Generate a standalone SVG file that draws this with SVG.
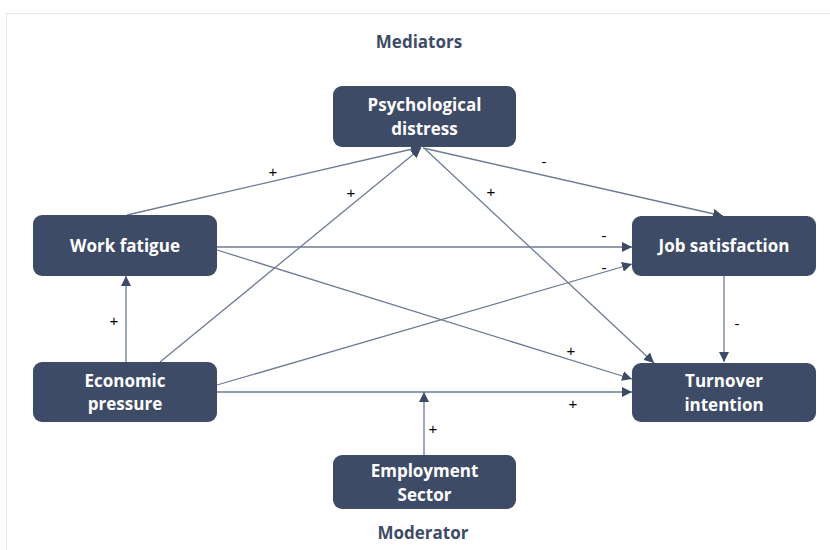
<svg xmlns="http://www.w3.org/2000/svg" width="830" height="550" viewBox="0 0 830 550">
<defs>
<style>
.box{fill:#3e4b66;}
.nt{font-family:"Open Sans","Noto Sans",sans-serif;font-weight:bold;font-size:17px;fill:#ffffff;text-anchor:middle;}
.hd{font-family:"Open Sans","Noto Sans",sans-serif;font-weight:bold;font-size:17px;fill:#3e4b66;text-anchor:middle;}
.ln{stroke:#6d7b94;stroke-width:1.3;fill:none;}
.lb{font-family:"Liberation Sans",Arial,sans-serif;font-size:15px;fill:#000;text-anchor:middle;}
</style>
<marker id="ah" viewBox="0 0 10 10" refX="10" refY="5" markerWidth="10" markerHeight="10" markerUnits="userSpaceOnUse" orient="auto">
<path d="M0,0 L10,5 L0,10 Z" fill="#3e4b66"/>
</marker>
</defs>
<rect x="0" y="0" width="830" height="550" fill="#ffffff"/>
<rect x="6.5" y="13.5" width="830" height="545" fill="none" stroke="#e6e6ea" stroke-width="1"/>
<text class="hd" x="419" y="48">Mediators</text>
<text class="hd" x="423" y="539">Moderator</text>
<g id="connectors">
<line class="ln" x1="127" y1="215" x2="421" y2="147" marker-end="url(#ah)"/>
<line class="ln" x1="160" y1="362" x2="421" y2="148" marker-end="url(#ah)"/>
<line class="ln" x1="423" y1="148" x2="723" y2="216" marker-end="url(#ah)"/>
<line class="ln" x1="425" y1="149" x2="654" y2="363" marker-end="url(#ah)"/>
<line class="ln" x1="217" y1="247" x2="632" y2="247" marker-end="url(#ah)"/>
<line class="ln" x1="217" y1="250" x2="632" y2="379" marker-end="url(#ah)"/>
<line class="ln" x1="217" y1="385" x2="632" y2="264" marker-end="url(#ah)"/>
<line class="ln" x1="217" y1="392" x2="632" y2="392" marker-end="url(#ah)"/>
<line class="ln" x1="724" y1="276" x2="724" y2="362" marker-end="url(#ah)"/>
<line class="ln" x1="126" y1="362" x2="126" y2="276" marker-end="url(#ah)"/>
<line class="ln" x1="424" y1="455" x2="424" y2="392" marker-end="url(#ah)"/>
<text class="lb" x="273" y="177">+</text>
<text class="lb" x="351" y="198">+</text>
<text class="lb" x="544" y="167">-</text>
<text class="lb" x="491" y="197">+</text>
<text class="lb" x="604" y="241">-</text>
<text class="lb" x="604" y="273">-</text>
<text class="lb" x="571" y="356">+</text>
<text class="lb" x="573" y="409">+</text>
<text class="lb" x="737" y="329">-</text>
<text class="lb" x="114" y="326">+</text>
<text class="lb" x="433" y="434">+</text>
</g>
<g id="psychological-distress">
<rect class="box" x="333" y="86" width="183" height="61" rx="9"/>
<text class="nt" x="424.5" y="111">Psychological</text>
<text class="nt" x="424.5" y="135">distress</text>
</g>
<g id="work-fatigue">
<rect class="box" x="33" y="215" width="184" height="61" rx="9"/>
<text class="nt" x="125" y="252">Work fatigue</text>
</g>
<g id="job-satisfaction">
<rect class="box" x="632" y="216" width="184" height="60" rx="9"/>
<text class="nt" x="724" y="252">Job satisfaction</text>
</g>
<g id="economic-pressure">
<rect class="box" x="33" y="362" width="184" height="60" rx="9"/>
<text class="nt" x="125" y="387">Economic</text>
<text class="nt" x="125" y="410">pressure</text>
</g>
<g id="turnover-intention">
<rect class="box" x="632" y="363" width="184" height="59" rx="9"/>
<text class="nt" x="724" y="387">Turnover</text>
<text class="nt" x="724" y="411">intention</text>
</g>
<g id="employment-sector">
<rect class="box" x="333" y="455" width="183" height="54" rx="9"/>
<text class="nt" x="424.5" y="477">Employment</text>
<text class="nt" x="424.5" y="501">Sector</text>
</g>
</svg>
